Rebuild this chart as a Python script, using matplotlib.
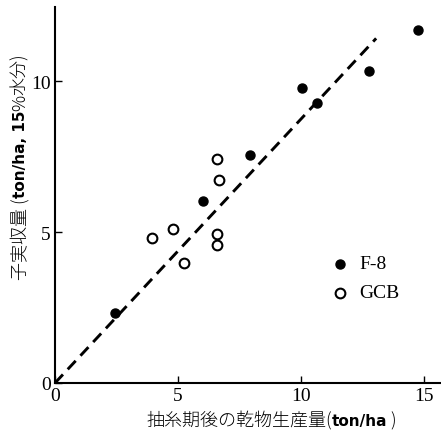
import matplotlib
matplotlib.use("Agg")
import matplotlib.pyplot as plt

f8_x = [2.44, 6.00, 7.93, 10.03, 10.66, 12.74, 14.77]
f8_y = [2.33, 6.03, 7.54, 9.79, 9.29, 10.34, 11.70]
gcb_x = [3.93, 4.78, 5.26, 6.57, 6.67, 6.57, 6.57]
gcb_y = [4.81, 5.11, 3.97, 7.41, 6.73, 4.93, 4.58]
line_x = [0.0, 13.05]
line_y = [0.0, 11.42]
xticks = [0, 5, 10, 15]
yticks = [0, 5, 10]
legend_labels = ["F-8", "GCB"]
xlabel_parts = [("抽糸期後の乾物生産量(", "jp"), ("ton/ha", "b"), (" )", "jp")]
ylabel_parts = [("子実収量 (", "jp"), ("ton/ha, 15", "b"), ("%", "jp"), ("水分)", "jp")]

serif = ["Liberation Serif", "Noto Sans CJK JP"]
styles = {
    "jp": dict(family=["Noto Sans CJK JP", "Liberation Serif"], fontsize=13, fontweight="light"),
    "b": dict(family=["DejaVu Sans", "Noto Sans CJK JP"], fontsize=11, fontweight="bold"),
}

fig = plt.figure(figsize=(4.41, 4.31), dpi=100)
ax = fig.add_axes([55/441, 1-384/431, 1-55/441-0.002, (384-8)/431])
ax.set_xlim(0, 15.65)
ax.set_ylim(0, 12.46)

ax.plot(line_x, line_y, color="black", lw=2.1, dashes=(4.0, 2.4))
ax.plot(f8_x, f8_y, "o", color="black", ms=6.5, ls="none")
ax.plot(gcb_x, gcb_y, "o", mfc="white", mec="black", mew=1.5, ms=7, ls="none")

# legend
ax.plot([11.59], [3.95], "o", color="black", ms=6.5)
ax.plot([11.59], [2.99], "o", mfc="white", mec="black", mew=1.5, ms=7)
ax.text(12.35, 3.95, legend_labels[0], family=serif, fontsize=14, va="center", ha="left")
ax.text(12.35, 2.99, legend_labels[1], family=serif, fontsize=14, va="center", ha="left")

for s in ["top", "right"]:
    ax.spines[s].set_visible(False)
for s in ["left", "bottom"]:
    ax.spines[s].set_linewidth(1.5)

ax.set_xticks(xticks)
ax.set_yticks(yticks)
ax.tick_params(direction="in", length=5, width=1, labelsize=14, pad=3)
for lab in ax.get_xticklabels() + ax.get_yticklabels():
    lab.set_family(serif)

# chained mixed-font axis labels
fig.canvas.draw()
renderer = fig.canvas.get_renderer()

def chain(parts, x_px, y_px, rotation):
    pos = 0.0
    for txt, st in parts:
        if rotation == 0:
            xx, yy = x_px + pos, y_px
        else:
            xx, yy = x_px, y_px + pos
        t = fig.text(xx / 441, yy / 431, txt, rotation=rotation, rotation_mode="anchor",
                     ha="left", va="baseline", **styles[st])
        bb = t.get_window_extent(renderer)
        pos += bb.width if rotation == 0 else bb.height

chain(xlabel_parts, 146, 431 - 426, 0)
chain(ylabel_parts, 25, 431 - 280, 90)

fig.savefig("out.png", dpi=100)
